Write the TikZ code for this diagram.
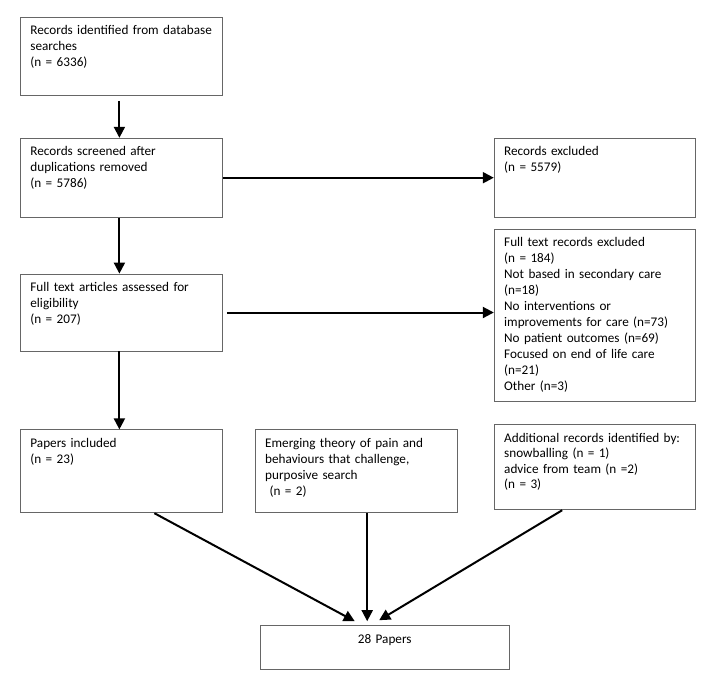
\documentclass[tikz,border=0pt]{standalone}
\usepackage{fontspec}
\setmainfont{Carlito}
\usepackage{tikz}
\usetikzlibrary{arrows.meta,positioning}

\newcommand{\flowfont}{\fontsize{13.2}{16}\selectfont}

\begin{document}
\begin{tikzpicture}[x=1pt, y=-1pt]
		\tikzstyle{box}=[draw=black!60, line width=0.8pt, align=left, text width=182pt, inner xsep=10pt, inner ysep=6pt, text height=11.5pt, font=\flowfont]
		\tikzstyle{connect}=[-{Triangle[length=11pt,width=11pt]}, line width=2pt]
		\useasboundingbox (0,0) rectangle (708,678);

		\node[box, anchor=north west, text depth=54.5pt] (ident) at (20,17) {Records identified from database\\searches\\(n = 6336)};
		\node[box, text depth=55.5pt] (screened) [below=42pt of ident] {Records screened after\\duplications removed\\(n = 5786)};
		\node[box, text width=181pt, text depth=55.5pt] (excluded) [right=271pt of screened] {Records excluded\\(n = 5579)};

		\node[box, text depth=53.5pt] (assessed) [below=56pt of screened] {Full text articles assessed for\\eligibility\\(n = 207)};
		\node[box, text width=181pt, text depth=148.5pt] (fulltext) [below=11pt of excluded] {Full text records excluded\\(n = 184)\\Not based in secondary care\\(n=18)\\No interventions or\\improvements for care (n=73)\\No patient outcomes (n=69)\\Focused on end of life care\\(n=21)\\Other (n=3)};

		\node[box, text depth=59.5pt] (included) [below=78pt of assessed] {Papers included\\(n = 23)};
		\node[box, text depth=59.5pt] (emerging) [right=32pt of included] {Emerging theory of pain and\\behaviours that challenge,\\purposive search\\\ (n = 2)};
		\node[box, text width=181pt, text depth=61.5pt, font=\fontsize{13.2}{15.5}\selectfont] (additional) [below=23pt of fulltext] {Additional records identified by:\\snowballing (n = 1)\\advice from team (n =2)\\(n = 3)};

		\node[box, text width=229pt, align=center, text depth=20.5pt] (papers) [below=112pt of emerging, xshift=28.5pt] {28 Papers};

		\path ([xshift=-2pt]ident.south) edge [connect, shorten <=5pt] ([xshift=-2pt]screened.north);
		\path (screened.east) edge [connect] (excluded.west);
		\path ([xshift=-2pt]screened.south) edge [connect] ([xshift=-2pt]assessed.north);
		\path ([xshift=4pt]assessed.east) edge [connect] (assessed.east -| fulltext.west);
		\path ([xshift=-2pt]assessed.south) edge [connect] ([xshift=-2pt]included.north);

		\path ([xshift=33pt]included.south) edge [connect] ([xshift=-30pt,yshift=4pt]papers.north);
		\path ([xshift=11pt]emerging.south) edge [connect] ([xshift=-17.5pt,yshift=4pt]papers.north);
		\path ([xshift=-32.5pt]additional.south) edge [connect] ([xshift=-5.5pt,yshift=5pt]papers.north);
	\end{tikzpicture}
\end{document}
